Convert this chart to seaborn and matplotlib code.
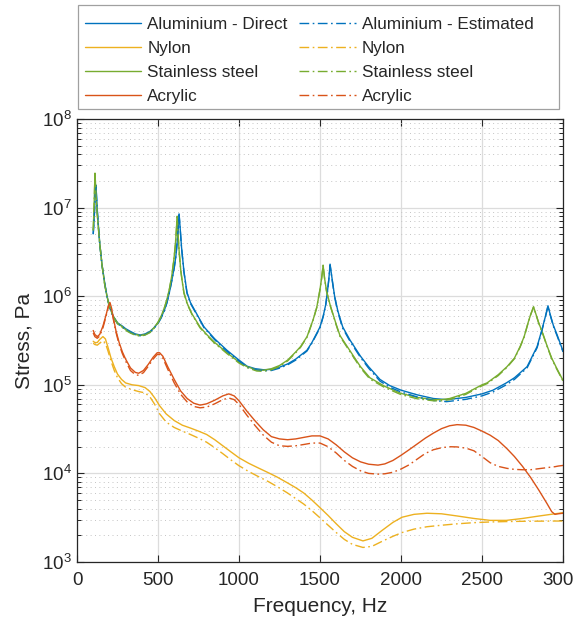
import matplotlib
matplotlib.use("Agg")
import matplotlib.pyplot as plt
import matplotlib.ticker as mticker
from matplotlib.patches import Rectangle
import seaborn as sns
import pandas as pd

# ---------------- data (frequency in Hz, stress in Pa) ----------------
al_x = [100, 105, 110, 114, 117, 120, 125, 130, 140, 154, 170, 185, 200, 222, 250, 280, 300, 330, 360, 390,
        420, 450, 475, 500, 520, 540, 555, 570, 585, 600, 610, 618, 625, 630, 635, 645, 660, 679, 700, 750,
        784, 850, 926, 1000, 1050, 1100, 1150, 1200, 1250, 1300, 1350, 1419, 1450, 1500, 1520, 1535, 1545,
        1555, 1562, 1575, 1590, 1610, 1640, 1685, 1750, 1800, 1870, 1930, 2000, 2100, 2200, 2280, 2400, 2500,
        2568, 2650, 2700, 2778, 2840, 2870, 2890, 2907, 2920, 2940, 2965, 3000]
al_direct = [5.1e6, 7.0e6, 1.1e7, 1.6e7, 1.8e7, 1.4e7, 9.5e6, 7.0e6, 4.0e6, 2.3e6, 1.45e6, 1.0e6, 7.8e5,
             6.0e5, 5.0e5, 4.6e5, 4.3e5, 4.0e5, 3.75e5, 3.65e5, 3.75e5, 4.0e5, 4.4e5, 5.0e5, 5.8e5, 7.0e5,
             8.5e5, 1.1e6, 1.5e6, 2.1e6, 2.8e6, 4.0e6, 6.0e6, 8.5e6, 6.5e6, 3.6e6, 1.9e6, 1.1e6, 8.5e5, 5.8e5,
             4.5e5, 3.3e5, 2.45e5, 1.9e5, 1.62e5, 1.52e5, 1.48e5, 1.49e5, 1.58e5, 1.72e5, 1.95e5, 2.45e5,
             3.0e5, 4.5e5, 6.0e5, 8.0e5, 1.1e6, 1.6e6, 2.3e6, 1.55e6, 1.0e6, 6.8e5, 4.5e5, 3.2e5, 2.1e5,
             1.6e5, 1.15e5, 9.8e4, 8.7e4, 7.7e4, 7.0e4, 6.8e4, 7.2e4, 7.9e4, 8.7e4, 1.05e5, 1.2e5, 1.6e5,
             2.7e5, 4.2e5, 5.8e5, 7.8e5, 6.3e5, 4.7e5, 3.6e5, 2.4e5]
al_estimated = [5.0e6, 6.9e6, 1.08e7, 1.58e7, 1.78e7, 1.38e7, 9.3e6, 6.9e6, 3.95e6, 2.25e6, 1.42e6, 9.8e5,
                7.6e5, 5.9e5, 4.9e5, 4.5e5, 4.2e5, 3.9e5, 3.68e5, 3.58e5, 3.68e5, 3.93e5, 4.33e5, 4.92e5,
                5.7e5, 6.9e5, 8.4e5, 1.09e6, 1.49e6, 2.08e6, 2.78e6, 3.97e6, 5.95e6, 8.3e6, 6.4e6, 3.55e6,
                1.87e6, 1.08e6, 8.3e5, 5.7e5, 4.4e5, 3.22e5, 2.38e5, 1.85e5, 1.58e5, 1.48e5, 1.44e5, 1.45e5,
                1.54e5, 1.68e5, 1.9e5, 2.4e5, 2.95e5, 4.4e5, 5.9e5, 7.9e5, 1.09e6, 1.58e6, 2.25e6, 1.52e6,
                9.8e5, 6.6e5, 4.35e5, 3.1e5, 2.03e5, 1.54e5, 1.1e5, 9.4e4, 8.3e4, 7.3e4, 6.65e4, 6.45e4,
                6.85e4, 7.5e4, 8.3e4, 1.0e5, 1.15e5, 1.55e5, 2.62e5, 4.1e5, 5.7e5, 7.7e5, 6.2e5, 4.6e5,
                3.5e5, 2.35e5]

ss_x = [100, 105, 111, 116, 122, 130, 140, 154, 170, 185, 200, 222, 250, 280, 300, 330, 360, 390, 420, 450,
        475, 500, 520, 540, 555, 570, 585, 598, 607, 613, 618, 623, 630, 640, 650, 660, 680, 710, 759, 800,
        850, 926, 1000, 1050, 1110, 1150, 1200, 1250, 1300, 1350, 1380, 1420, 1457, 1480, 1500, 1510, 1519,
        1528, 1540, 1562, 1600, 1623, 1700, 1750, 1808, 1900, 2000, 2100, 2200, 2250, 2300, 2400, 2500,
        2531, 2600, 2654, 2700, 2735, 2760, 2784, 2800, 2818, 2830, 2850, 2875, 2900, 2930, 2960, 3000]
ss_direct = [5.6e6, 1.0e7, 2.45e7, 1.6e7, 1.0e7, 6.5e6, 4.0e6, 2.3e6, 1.4e6, 1.0e6, 7.8e5, 6.0e5, 5.0e5,
             4.5e5, 4.2e5, 3.9e5, 3.7e5, 3.6e5, 3.7e5, 3.95e5, 4.4e5, 5.1e5, 6.0e5, 7.5e5, 9.2e5, 1.2e6,
             1.7e6, 2.6e6, 3.8e6, 5.5e6, 8.0e6, 5.3e6, 3.3e6, 2.0e6, 1.45e6, 1.1e6, 8.3e5, 6.3e5, 4.5e5,
             3.7e5, 3.0e5, 2.3e5, 1.8e5, 1.6e5, 1.47e5, 1.46e5, 1.52e5, 1.65e5, 1.9e5, 2.35e5, 2.7e5, 3.5e5,
             5.4e5, 7.5e5, 1.2e6, 1.6e6, 2.24e6, 1.6e6, 1.15e6, 8.0e5, 4.8e5, 3.6e5, 2.2e5, 1.6e5, 1.2e5,
             9.6e4, 8.0e4, 7.2e4, 6.8e4, 6.8e4, 7.0e4, 8.0e4, 1.0e5, 1.05e5, 1.3e5, 1.6e5, 2.0e5, 2.7e5,
             3.5e5, 5.0e5, 6.2e5, 7.6e5, 6.5e5, 5.0e5, 3.8e5, 2.8e5, 2.0e5, 1.55e5, 1.12e5]
ss_estimated = [5.5e6, 9.8e6, 2.4e7, 1.58e7, 9.8e6, 6.4e6, 3.95e6, 2.26e6, 1.38e6, 9.8e5, 7.65e5, 5.9e5,
                4.9e5, 4.42e5, 4.12e5, 3.83e5, 3.63e5, 3.54e5, 3.64e5, 3.88e5, 4.33e5, 5.02e5, 5.9e5,
                7.4e5, 9.1e5, 1.19e6, 1.69e6, 2.58e6, 3.77e6, 5.45e6, 7.9e6, 5.25e6, 3.27e6, 1.97e6,
                1.43e6, 1.08e6, 8.15e5, 6.2e5, 4.4e5, 3.62e5, 2.94e5, 2.25e5, 1.76e5, 1.56e5, 1.43e5,
                1.42e5, 1.48e5, 1.61e5, 1.86e5, 2.3e5, 2.65e5, 3.45e5, 5.35e5, 7.45e5, 1.19e6, 1.59e6,
                2.22e6, 1.59e6, 1.14e6, 7.9e5, 4.72e5, 3.52e5, 2.14e5, 1.55e5, 1.16e5, 9.3e4, 7.75e4,
                6.95e4, 6.6e4, 6.6e4, 6.8e4, 7.8e4, 9.75e4, 1.03e5, 1.27e5, 1.57e5, 1.97e5, 2.66e5, 3.45e5,
                4.95e5, 6.15e5, 7.55e5, 6.45e5, 4.95e5, 3.75e5, 2.76e5, 1.97e5, 1.52e5, 1.1e5]

ac_x = [100, 110, 125, 140, 160, 180, 195, 203, 212, 225, 240, 260, 280, 300, 330, 360, 380, 410, 440, 470,
        495, 510, 530, 560, 600, 640, 680, 720, 760, 800, 850, 900, 937, 970, 1000, 1050, 1100, 1150, 1200,
        1250, 1300, 1350, 1400, 1450, 1500, 1550, 1600, 1650, 1700, 1750, 1800, 1858, 1900, 1950, 2000,
        2050, 2100, 2150, 2200, 2250, 2300, 2346, 2400, 2450, 2500, 2550, 2600, 2654, 2700, 2750, 2800,
        2850, 2900, 2930, 2950, 2970, 3000]
ac_direct = [4.1e5, 3.7e5, 3.5e5, 3.7e5, 4.6e5, 6.2e5, 8.0e5, 8.5e5, 7.5e5, 5.6e5, 4.1e5, 3.0e5, 2.35e5,
             1.95e5, 1.55e5, 1.38e5, 1.35e5, 1.45e5, 1.7e5, 2.05e5, 2.3e5, 2.3e5, 2.1e5, 1.6e5, 1.15e5,
             8.5e4, 7.0e4, 6.2e4, 5.9e4, 6.1e4, 6.7e4, 7.5e4, 7.9e4, 7.5e4, 6.6e4, 5.0e4, 3.9e4, 3.1e4,
             2.6e4, 2.45e4, 2.4e4, 2.45e4, 2.55e4, 2.65e4, 2.65e4, 2.45e4, 2.1e4, 1.75e4, 1.5e4, 1.35e4,
             1.27e4, 1.24e4, 1.28e4, 1.4e4, 1.6e4, 1.85e4, 2.15e4, 2.5e4, 2.85e4, 3.2e4, 3.45e4, 3.55e4,
             3.5e4, 3.3e4, 3.0e4, 2.7e4, 2.35e4, 1.9e4, 1.55e4, 1.2e4, 9.0e3, 6.5e3, 4.6e3, 3.7e3, 3.45e3,
             3.5e3, 3.55e3]
ac_estimated = [3.85e5, 3.5e5, 3.35e5, 3.55e5, 4.4e5, 6.0e5, 7.8e5, 8.3e5, 7.3e5, 5.4e5, 3.95e5, 2.85e5,
                2.25e5, 1.85e5, 1.45e5, 1.3e5, 1.28e5, 1.37e5, 1.62e5, 1.95e5, 2.2e5, 2.2e5, 2.0e5, 1.5e5,
                1.05e5, 7.8e4, 6.4e4, 5.7e4, 5.5e4, 5.6e4, 6.1e4, 6.8e4, 7.1e4, 6.8e4, 6.0e4, 4.5e4, 3.45e4,
                2.7e4, 2.25e4, 2.05e4, 2.02e4, 2.05e4, 2.12e4, 2.2e4, 2.2e4, 2.0e4, 1.7e4, 1.4e4, 1.2e4,
                1.07e4, 1.0e4, 9.8e3, 9.9e3, 1.03e4, 1.12e4, 1.25e4, 1.45e4, 1.68e4, 1.85e4, 1.95e4, 2.0e4,
                1.99e4, 1.93e4, 1.8e4, 1.55e4, 1.32e4, 1.2e4, 1.14e4, 1.11e4, 1.1e4, 1.1e4, 1.13e4, 1.16e4,
                1.18e4, 1.19e4, 1.21e4, 1.23e4]

ny_x = [100, 110, 125, 140, 160, 175, 190, 210, 230, 250, 275, 300, 340, 380, 420, 450, 480, 510, 550, 600,
        650, 700, 750, 800, 850, 900, 950, 1000, 1060, 1120, 1180, 1235, 1300, 1350, 1400, 1450, 1500,
        1550, 1600, 1650, 1700, 1765, 1820, 1880, 1950, 2006, 2080, 2160, 2250, 2350, 2450, 2550, 2650,
        2750, 2850, 2950, 3000]
ny_direct = [3.1e5, 3.0e5, 3.0e5, 3.25e5, 3.5e5, 3.3e5, 2.7e5, 2.0e5, 1.6e5, 1.32e5, 1.15e5, 1.05e5,
             1.0e5, 9.8e4, 9.3e4, 8.4e4, 7.1e4, 5.8e4, 4.7e4, 3.95e4, 3.5e4, 3.25e4, 3.0e4, 2.75e4, 2.4e4,
             2.05e4, 1.75e4, 1.5e4, 1.3e4, 1.15e4, 1.02e4, 9.1e3, 7.8e3, 6.9e3, 6.0e3, 5.0e3, 4.1e3, 3.35e3,
             2.7e3, 2.2e3, 1.9e3, 1.73e3, 1.85e3, 2.25e3, 2.8e3, 3.2e3, 3.45e3, 3.55e3, 3.5e3, 3.3e3, 3.1e3,
             2.95e3, 2.95e3, 3.1e3, 3.3e3, 3.5e3, 3.6e3]
ny_estimated = [2.95e5, 2.85e5, 2.8e5, 2.95e5, 3.15e5, 2.95e5, 2.45e5, 1.85e5, 1.45e5, 1.2e5, 1.03e5,
                9.4e4, 8.8e4, 8.4e4, 8.1e4, 7.3e4, 6.0e4, 4.7e4, 3.8e4, 3.3e4, 3.0e4, 2.75e4, 2.5e4, 2.25e4,
                1.95e4, 1.67e4, 1.42e4, 1.22e4, 1.05e4, 9.2e3, 8.1e3, 7.1e3, 6.0e3, 5.2e3, 4.5e3, 3.8e3,
                3.15e3, 2.6e3, 2.15e3, 1.8e3, 1.58e3, 1.46e3, 1.5e3, 1.7e3, 1.95e3, 2.15e3, 2.35e3, 2.5e3,
                2.6e3, 2.7e3, 2.78e3, 2.83e3, 2.86e3, 2.88e3, 2.89e3, 2.9e3, 2.9e3]

labels_direct = ["Aluminium - Direct", "Nylon", "Stainless steel", "Acrylic"]
labels_estimated = ["Aluminium - Estimated", "Nylon", "Stainless steel", "Acrylic"]
x_ticks = [0, 500, 1000, 1500, 2000, 2500, 3000]

# ---------------- styling ----------------
sns.set_theme(style="white")
plt.rcParams['font.family'] = ['Liberation Sans', 'DejaVu Sans']
plt.rcParams['mathtext.default'] = 'regular'
plt.rcParams['mathtext.fontset'] = 'custom'
plt.rcParams['mathtext.rm'] = 'Liberation Sans'

c_blue = "#0072BD"
c_yellow = "#EDB120"
c_green = "#77AC30"
c_red = "#D95319"
dashdot = (0, (7, 2.5, 1.2, 2.5))

fig = plt.figure(figsize=(5.73, 6.25), dpi=100)
ax = fig.add_axes([0.1344, 0.1008, 0.8482, 0.7088])

series = [
    (al_x, al_direct, c_blue, "-", labels_direct[0]),
    (ny_x, ny_direct, c_yellow, "-", labels_direct[1]),
    (ss_x, ss_direct, c_green, "-", labels_direct[2]),
    (ac_x, ac_direct, c_red, "-", labels_direct[3]),
    (al_x, al_estimated, c_blue, dashdot, labels_estimated[0]),
    (ny_x, ny_estimated, c_yellow, dashdot, labels_estimated[1]),
    (ss_x, ss_estimated, c_green, dashdot, labels_estimated[2]),
    (ac_x, ac_estimated, c_red, dashdot, labels_estimated[3]),
]

handles = []
for xs, ys, col, ls, lab in series:
    df = pd.DataFrame({"f": xs, "s": ys})
    sns.lineplot(data=df, x="f", y="s", ax=ax, color=col, linewidth=1.0,
                 estimator=None, sort=False, legend=False)
    line = ax.lines[-1]
    line.set_linestyle(ls)
    line.set_label(lab)
    handles.append(line)

ax.set_yscale("log")
ax.set_xlim(0, 3000)
ax.set_ylim(1e3, 1e8)
ax.set_xticks(x_ticks)
ax.set_xticklabels([str(t) for t in x_ticks])
ax.yaxis.set_major_locator(mticker.LogLocator(base=10, numticks=10))
ax.yaxis.set_minor_locator(mticker.LogLocator(base=10, subs=range(2, 10), numticks=100))
ax.yaxis.set_minor_formatter(mticker.NullFormatter())

ax.grid(which="major", color="#dcdcdc", linewidth=0.9, linestyle="-")
ax.yaxis.grid(which="minor", color="#c4c4c4", linewidth=0.7, linestyle=(0, (1, 3.5)))
ax.set_axisbelow(True)

for s in ax.spines.values():
    s.set_visible(True)
    s.set_color("#262626")
    s.set_linewidth(0.9)

ax.tick_params(which="both", direction="in", top=True, right=True, bottom=True, left=True,
               color="#262626", labelsize=13.5, labelcolor="#262626")
ax.tick_params(which="major", length=5, width=0.8)
ax.tick_params(which="minor", length=2.8, width=0.7)
ax.tick_params(axis="x", pad=7)
ax.tick_params(axis="y", pad=4)

ax.set_xlabel("Frequency, Hz", fontsize=15, color="#262626", labelpad=6)
ax.set_ylabel("Stress, Pa", fontsize=15, color="#262626", labelpad=6)

leg = fig.legend(handles=handles, loc="upper left", bbox_to_anchor=(73.4 / 573, 1 - 5 / 625), ncol=2,
                 fontsize=12.3, frameon=False,
                 handlelength=3.3, handletextpad=0.35, columnspacing=0.68, labelspacing=0.54,
                 borderpad=0.68, borderaxespad=0)
fig.add_artist(Rectangle((78 / 573, 1 - 109 / 625), 481 / 573, 104 / 625, transform=fig.transFigure,
                         fill=False, edgecolor="#a0a0a0", linewidth=0.9))

fig.savefig("out.png", dpi=100, facecolor="white")
